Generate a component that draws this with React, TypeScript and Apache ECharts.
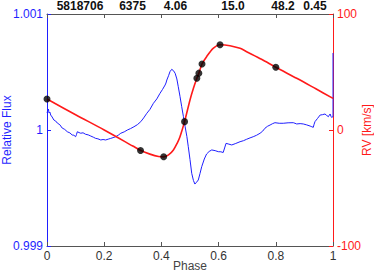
import React, { useEffect, useRef } from "react";
import * as echarts from "echarts";

const fluxPhase = [
  0.0, 0.005, 0.007, 0.01, 0.013, 0.018, 0.024, 0.03, 0.036, 0.045, 0.053, 0.062, 0.071, 0.08, 0.088, 0.094, 0.1,
  0.103, 0.106, 0.112, 0.118, 0.126, 0.135, 0.144, 0.153, 0.162, 0.17, 0.178, 0.188, 0.196, 0.205, 0.214, 0.223,
  0.231, 0.24, 0.249, 0.258, 0.27, 0.281, 0.292, 0.304, 0.316, 0.328, 0.338, 0.349, 0.36, 0.372, 0.384, 0.395,
  0.404, 0.413, 0.416, 0.419, 0.425, 0.43, 0.436, 0.442, 0.448, 0.454, 0.459, 0.465, 0.471, 0.477, 0.483, 0.489,
  0.494, 0.5, 0.506, 0.512, 0.517, 0.523, 0.529, 0.535, 0.541, 0.55, 0.558, 0.567, 0.576, 0.588, 0.599, 0.608,
  0.616, 0.621, 0.626, 0.636, 0.646, 0.66, 0.675, 0.687, 0.698, 0.71, 0.721, 0.733, 0.745, 0.754, 0.762, 0.771,
  0.78, 0.789, 0.797, 0.812, 0.826, 0.843, 0.861, 0.867, 0.873, 0.885, 0.896, 0.908, 0.92, 0.926, 0.931, 0.934,
  0.937, 0.946, 0.955, 0.963, 0.972, 0.978, 0.984, 0.987, 0.99, 0.993, 0.995, 1.0, 1.0,
];
const fluxValue = [
  1.00015, 1.000181, 1.000147, 1.000155, 1.000129, 1.000112, 1.000086, 1.000078, 1.00006, 1.000045, 1.000017,
  1.000005, 0.999985, 0.999975, 0.999957, 0.999955, 0.999942, 0.99996, 0.999985, 0.999978, 0.999972, 0.999976,
  0.999963, 0.999958, 0.999948, 0.999938, 0.999928, 0.999924, 0.999914, 0.999918, 0.999914, 0.999921, 0.999928,
  0.999934, 0.999942, 0.999955, 0.999972, 0.999984, 1.0, 1.000012, 1.000028, 1.000046, 1.000072, 1.000104,
  1.000144, 1.000178, 1.00023, 1.000268, 1.000316, 1.00035, 1.000388, 1.000405, 1.000431, 1.000468, 1.000503,
  1.000523, 1.000512, 1.000489, 1.00044, 1.000373, 1.00029, 1.000201, 1.000115, 1.000028, 0.999945, 0.999856,
  0.999745, 0.999627, 0.999565, 0.999534, 0.99955, 0.999569, 0.999625, 0.999684, 0.99975, 0.999793, 0.999815,
  0.999828, 0.999822, 0.999813, 0.999812, 0.999806, 0.999845, 0.999885, 0.999878, 0.999871, 0.999884, 0.999899,
  0.999908, 0.99992, 0.999932, 0.999942, 0.999955, 0.999972, 0.99999, 1.000015, 1.000032, 1.000043, 1.000055,
  1.000063, 1.000058, 1.000058, 1.000062, 1.000063, 1.000058, 1.000052, 1.000055, 1.000052, 1.000044, 1.000034,
  1.000028, 1.000023, 1.00005, 1.000072, 1.0001, 1.000129, 1.000132, 1.000138, 1.000125, 1.000115, 1.000128,
  1.000138, 1.000118, 1.000109, 1.000115, 1.000664,
];

const rvCurvePhase = [
  0.0, 0.1, 0.2, 0.3, 0.328, 0.36, 0.39, 0.408, 0.425, 0.442, 0.455, 0.465, 0.481, 0.5, 0.512, 0.524, 0.531,
  0.542, 0.558, 0.581, 0.605, 0.64, 0.675, 0.698, 0.75, 0.8, 0.873, 0.94, 1.0,
];
const rvCurveValue = [
  26.7, 13.2, 0.0, -13.8, -17.7, -20.8, -22.9, -23.2, -21.5, -17.2, -11.5, -5.8, 7.2, 25.9, 36.0, 44.6, 49.0,
  56.9, 63.2, 70.4, 73.5, 72.7, 70.4, 67.5, 61.0, 54.1, 44.6, 35.5, 27.3,
];

const rvObsPhase = [0.0, 0.327, 0.408, 0.481, 0.524, 0.531, 0.542, 0.605, 0.8];
const rvObsValue = [26.7, -17.7, -23.0, 7.2, 44.6, 49.0, 56.9, 73.5, 54.1];

const topLabels = ["5818706", "6375", "4.06", "15.0", "48.2", "0.45"];
const topLabelX = [80, 132.5, 175.5, 233, 283, 315];

const axisTitles = { x: "Phase", flux: "Relative Flux", rv: "RV [km/s]" };

const xTicks = { min: 0, max: 1, interval: 0.2 };
const fluxTicks = { min: 0.999, max: 1.001, interval: 0.001 };
const rvTicks = { min: -100, max: 100, interval: 100 };

const FONT = "'Liberation Sans', Arial, Helvetica, sans-serif";
const BLUE = "#1f1fff";
const RED = "#ff1a1a";
const GRAY = "#555555";

export default function App() {
  const ref = useRef<HTMLDivElement>(null);
  useEffect(() => {
    if (!ref.current) return;
    const chart = echarts.init(ref.current, null, { renderer: "svg" });
    const titleStyle = (color: string) => ({
      fontSize: 12,
      fontFamily: FONT,
      fill: color,
      align: "center",
      verticalAlign: "middle",
    });
    chart.setOption({
      animation: false,
      textStyle: { fontFamily: FONT },
      grid: { left: 47, right: 41, top: 14, bottom: 28, containLabel: false, outerBoundsMode: "none" },
      xAxis: [
        {
          type: "value",
          position: "bottom",
          ...xTicks,
          axisLine: { show: true, onZero: false, lineStyle: { color: GRAY, width: 1 } },
          axisTick: { show: true, inside: true, length: 4, lineStyle: { color: GRAY } },
          axisLabel: { color: "#333", fontSize: 12, margin: 4, fontFamily: FONT },
          splitLine: { show: false },
        },
        {
          type: "value",
          position: "top",
          ...xTicks,
          axisLine: { show: true, onZero: false, lineStyle: { color: GRAY, width: 1 } },
          axisTick: { show: true, inside: true, length: 4, lineStyle: { color: GRAY } },
          axisLabel: { show: false },
          splitLine: { show: false },
        },
      ],
      yAxis: [
        {
          type: "value",
          position: "left",
          ...fluxTicks,
          axisLine: { show: true, onZero: false, lineStyle: { color: BLUE, width: 1 } },
          axisTick: { show: true, inside: true, length: 4, lineStyle: { color: BLUE } },
          axisLabel: { color: BLUE, fontSize: 12, margin: 4, fontFamily: FONT },
          splitLine: { show: false },
        },
        {
          type: "value",
          position: "right",
          ...rvTicks,
          axisLine: { show: true, onZero: false, lineStyle: { color: RED, width: 1 } },
          axisTick: { show: true, inside: true, length: 4, lineStyle: { color: RED } },
          axisLabel: { color: RED, fontSize: 12, margin: 4, fontFamily: FONT },
          splitLine: { show: false },
        },
      ],
      graphic: [
        ...topLabels.map((t, i) => ({
          type: "text",
          x: topLabelX[i],
          y: 6,
          style: {
            text: t,
            fontSize: 12,
            fontWeight: "bold",
            fontFamily: FONT,
            fill: "#111",
            align: "center",
            verticalAlign: "middle",
          },
        })),
        { type: "text", x: 190, y: 266, style: { text: axisTitles.x, ...titleStyle("#444") } },
        { type: "text", x: 7, y: 130, rotation: Math.PI / 2, style: { text: axisTitles.flux, ...titleStyle(BLUE) } },
        { type: "text", x: 367, y: 130, rotation: Math.PI / 2, style: { text: axisTitles.rv, ...titleStyle(RED) } },
      ],
      series: [
        {
          type: "line",
          xAxisIndex: 0,
          yAxisIndex: 0,
          data: fluxPhase.map((p, i) => [p, fluxValue[i]]),
          showSymbol: false,
          lineStyle: { color: BLUE, width: 1 },
          z: 2,
        },
        {
          type: "line",
          xAxisIndex: 0,
          yAxisIndex: 1,
          data: rvCurvePhase.map((p, i) => [p, rvCurveValue[i]]),
          showSymbol: false,
          smooth: 0.3,
          lineStyle: { color: RED, width: 1.6 },
          z: 3,
        },
        {
          type: "scatter",
          xAxisIndex: 0,
          yAxisIndex: 1,
          data: rvObsPhase.map((p, i) => [p, rvObsValue[i]]),
          symbol: "circle",
          symbolSize: 7,
          itemStyle: { color: "#000" },
          z: 4,
        },
      ],
    });
    return () => chart.dispose();
  }, []);
  return <div ref={ref} style={{ width: 374, height: 274, position: "absolute", left: 0, top: 0 }} />;
}
